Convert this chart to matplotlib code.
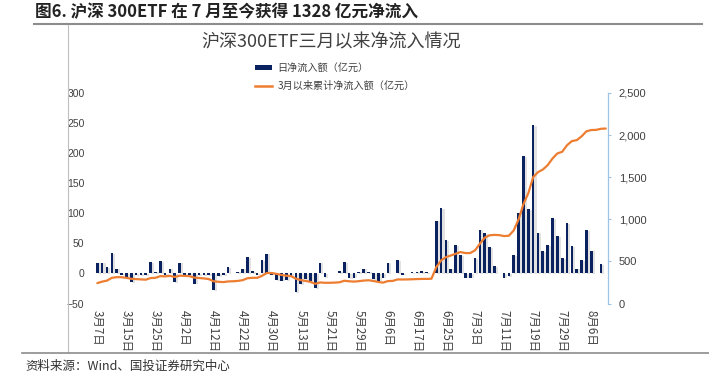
import numpy as np
import matplotlib.pyplot as plt
from matplotlib.patches import Patch
from matplotlib.lines import Line2D
from matplotlib.ticker import FuncFormatter

plt.rcParams['font.family'] = ['Noto Sans CJK SC', 'DejaVu Sans']

# daily net inflow (亿元), trading days 3/7 .. 8/9
daily = [18, 18, 10, 34, 8, -2, -8, -14, -3, -3,
         -3, 19, 3, 21, -3, 8, -14, 18, -2, -3,
         -17, -3, -3, -3, -28, -5, -3, 10, 1, 3,
         8, 27, 4, -2, 22, 33, -2, -11, -12, -11,
         -5, -31, -18, -10, -12, -25, 18, -6, 0.5, 1,
         4, 19, -8, -7, 3, 8, 3, -10, -12, -7,
         18, 0.5, 22, -2, 1, 2, 3, 4, 2, 1,
         88, 108, 55, 8, 47, 30, -7, -7, 25, 73,
         67, 44, 12, 0.5, -7, -5, 31, 101, 195, 107,
         247, 68, 37, 47, 92, 62, 25, 84, 45, 8,
         22, 72, 38, 0.5, 15, 1]

# cumulative since March (亿元)
cumul = [242, 260, 272, 305, 313, 312, 305, 293, 290, 286,
         283, 302, 305, 325, 322, 328, 315, 330, 328, 325,
         308, 303, 298, 290, 264, 258, 254, 262, 264, 268,
         277, 300, 305, 305, 328, 362, 362, 352, 340, 330,
         325, 295, 278, 268, 257, 234, 250, 246, 246, 248,
         252, 270, 264, 260, 265, 272, 276, 268, 256, 248,
         266, 268, 286, 285, 286, 288, 290, 292, 292, 294,
         432, 512, 551, 570, 591, 611, 599, 599, 631, 710,
         782, 810, 815, 812, 801, 805, 869, 1000, 1180, 1310,
         1500, 1560, 1591, 1643, 1722, 1782, 1802, 1880, 1929, 1940,
         1985, 2045, 2060, 2062, 2075, 2078]

tick_labels = ['3月7日', '3月15日', '3月25日', '4月2日', '4月12日', '4月22日',
               '4月30日', '5月13日', '5月21日', '5月29日', '6月6日', '6月17日',
               '6月25日', '7月3日', '7月11日', '7月19日', '7月29日', '8月6日']

navy = '#0B2260'
orange = '#ED7D31'
grey = '#404040'

W, H = 709, 378
fig = plt.figure(figsize=(W / 100, H / 100), dpi=100)

x = np.arange(len(daily))
ax = fig.add_axes([94.9 / W, 1 - 303.5 / H, (608.2 - 94.9) / W, (303.5 - 93) / H])

# bar shadows then bars
ax.bar(x + 0.4, daily, width=0.6, bottom=-1.2, color='#b8b8b8', alpha=0.4, zorder=1)
ax.bar(x, daily, width=0.55, color=navy, zorder=2)
ax.set_xlim(-0.5, len(daily) - 0.5)
ax.set_ylim(-50, 300)
ax.set_yticks(np.arange(-50, 301, 50))
ax.set_xticks(x[::6])
ax.set_xticklabels(tick_labels, rotation=270, fontsize=8.3, color=grey, va='top', ha='center')
ax.tick_params(axis='x', length=0, pad=5)
ax.tick_params(axis='y', length=0, pad=7.5, labelsize=7.5, labelcolor=grey)
for lab in ax.get_yticklabels():
    lab.set_family(['Liberation Sans', 'DejaVu Sans'])
for s in ax.spines.values():
    s.set_visible(False)

ax2 = ax.twinx()
ax2.plot(x, cumul, color=orange, lw=1.6, solid_capstyle='round')
ax2.set_ylim(0, 2500)
ax2.set_yticks(np.arange(0, 2501, 500))
ax2.yaxis.set_major_formatter(FuncFormatter(lambda v, p: f'{int(v):,}'))
for s in ['top', 'left', 'bottom']:
    ax2.spines[s].set_visible(False)
ax2.spines['right'].set_color('#9DC3E6')
ax2.spines['right'].set_linewidth(0.9)
ax2.tick_params(axis='y', length=2.5, color='#9DC3E6', pad=5, labelsize=8, labelcolor=grey)
for lab in ax2.get_yticklabels():
    lab.set_family(['Liberation Sans', 'DejaVu Sans'])

# legend
handles = [Patch(facecolor=navy, edgecolor='none'),
           Line2D([], [], color=orange, lw=1.8)]
fig.legend(handles, ['日净流入额（亿元）', '3月以来累计净流入额（亿元）'],
           loc='upper left', bbox_to_anchor=(250 / W, 1 - 58 / H), frameon=False,
           fontsize=7.3, handlelength=1.7, handleheight=0.45, handletextpad=0.5,
           labelspacing=0.75, labelcolor=grey, borderpad=0)

# titles
fig.text(331 / W, 1 - 42 / H, '沪深300ETF三月以来净流入情况', ha='center', va='center',
         fontsize=13, color=grey)
fig.text(35 / W, 1 - 12 / H, '图6. 沪深 300ETF 在 7 月至今获得 1328 亿元净流入',
         ha='left', va='center', fontsize=12, fontweight='bold', color='#222222')

# frame lines
fig.add_artist(Line2D([34 / W, 702 / W], [1 - 24 / H, 1 - 24 / H], color='#8c8c8c', lw=1.5))
fig.add_artist(Line2D([68 / W, 68 / W], [1 - 25 / H, 1 - 352 / H], color='#bfbfbf', lw=0.8))
fig.add_artist(Line2D([22 / W, 709 / W], [1 - 353 / H, 1 - 353 / H], color='#8c8c8c', lw=1.2))

fig.text(25 / W, 1 - 366 / H, '资料来源：Wind、国投证券研究中心', ha='left', va='center',
         fontsize=9, color='#333333', style='italic')

fig.savefig('out.png', dpi=100)
